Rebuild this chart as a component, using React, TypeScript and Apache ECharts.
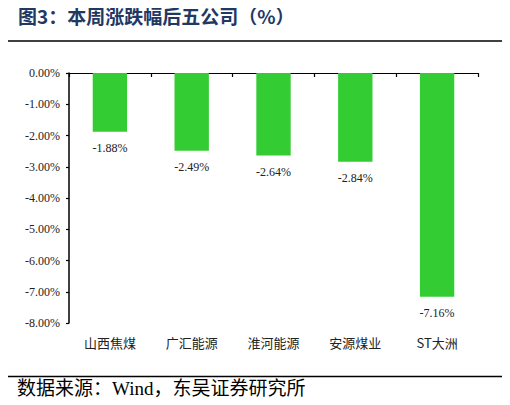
import { useEffect, useRef } from "react";
import * as echarts from "echarts";

const companies = ["山西焦煤", "广汇能源", "淮河能源", "安源煤业", "ST大洲"];
const weeklyChange = [-1.88, -2.49, -2.64, -2.84, -7.16];

const serif = "Liberation Serif";
const cjk = "Noto Sans CJK SC";

export default function App() {
  const ref = useRef<HTMLDivElement | null>(null);

  useEffect(() => {
    if (!ref.current) return;
    const chart = echarts.init(ref.current, undefined, { renderer: "svg" });

    chart.setOption({
      animation: false,
      backgroundColor: "#fff",
      grid: { left: 69, right: 32, top: 73, bottom: 82 },
      graphic: [
        {
          type: "text",
          left: 18,
          top: 6,
          style: {
            text: "图3：本周涨跌幅后五公司（%）",
            fontSize: 19,
            fontWeight: "bold",
            fontFamily: cjk,
            fill: "#1f3864",
          },
        },
        {
          type: "line",
          shape: { x1: 6, y1: 41, x2: 504, y2: 41 },
          style: { stroke: "#000", lineWidth: 1.5 },
        },
        {
          type: "line",
          shape: { x1: 6, y1: 376.5, x2: 504, y2: 376.5 },
          style: { stroke: "#000", lineWidth: 1.5 },
        },
        {
          type: "text",
          left: 17,
          top: 379,
          style: {
            text: "数据来源：Wind，东吴证券研究所",
            fontSize: 19,
            fontFamily: serif + ", " + cjk,
            fill: "#000",
          },
        },
      ],
      xAxis: [
        {
          type: "category",
          data: companies,
          position: "bottom",
          axisLine: { show: false, onZero: false },
          axisTick: { show: false },
          axisLabel: { margin: 13, fontSize: 13, color: "#222", fontFamily: cjk },
        },
        {
          type: "category",
          data: companies,
          position: "top",
          axisLine: { show: true, lineStyle: { color: "#000", width: 1.2 } },
          axisTick: { show: true, inside: true, length: 4, lineStyle: { color: "#000", width: 1.2 } },
          axisLabel: { show: false },
        },
      ],
      yAxis: {
        type: "value",
        min: -8,
        max: 0,
        interval: 1,
        splitLine: { show: false },
        axisLine: { show: true, lineStyle: { color: "#000", width: 1.5 } },
        axisTick: { show: true, length: 3, lineStyle: { color: "#000", width: 1.2 } },
        axisLabel: {
          margin: 9,
          fontSize: 12,
          color: "#222",
          fontFamily: serif,
          formatter: (v: number) => `${v.toFixed(2)}%`,
        },
      },
      series: [
        {
          type: "bar",
          data: weeklyChange,
          barWidth: "42%",
          itemStyle: { color: "#33cc33" },
          label: {
            show: true,
            position: "bottom",
            distance: 10,
            fontSize: 12,
            color: "#222",
            fontFamily: serif,
            formatter: (p: any) => `${Number(p.value).toFixed(2)}%`,
          },
        },
      ],
    });

    return () => chart.dispose();
  }, []);

  return <div ref={ref} style={{ width: 510, height: 405, margin: -8 }} />;
}
